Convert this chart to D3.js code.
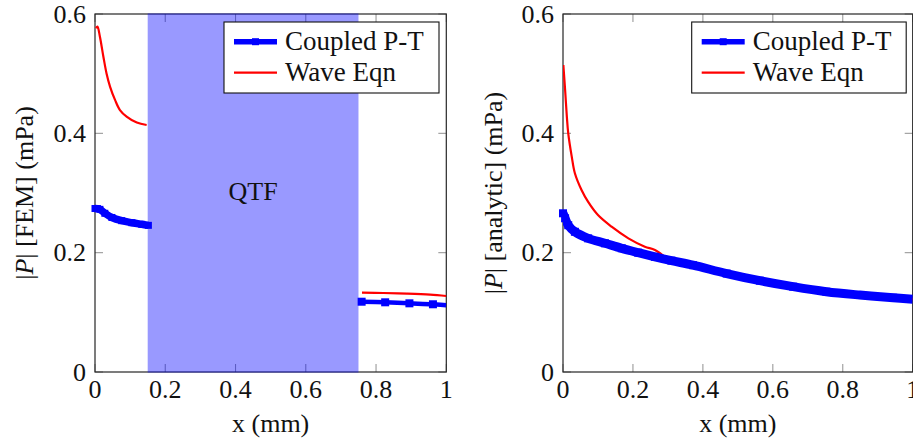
<!DOCTYPE html>
<html>
<head>
<meta charset="utf-8">
<script src="https://cdn.jsdelivr.net/npm/d3@7"></script>
<style>
  html, body { margin: 0; padding: 0; background: #fff; }
</style>
</head>
<body>
<svg id="chart" width="913" height="442" font-family="'Liberation Serif', 'Times New Roman', serif"></svg>
<script>
// ---------- data ----------
const xTicks = [0, 0.2, 0.4, 0.6, 0.8, 1];
const yTicks = [0, 0.2, 0.4, 0.6];
const xTickLabels = ["0", "0.2", "0.4", "0.6", "0.8", "1"];
const yTickLabels = ["0", "0.2", "0.4", "0.6"];
const seriesNames = ["Coupled P-T", "Wave Eqn"];
const qtfBand = [0.15, 0.75];
const qtfLabel = "QTF";

// Left panel (FEM)
const femCoupledA_x = [0, 0.007, 0.014, 0.028, 0.048, 0.076, 0.105, 0.133, 0.152];
const femCoupledA_y = [0.274, 0.2738, 0.2726, 0.266, 0.259, 0.2536, 0.2502, 0.2475, 0.2458];
const femCoupledB_x = [0.759, 0.826, 0.895, 0.962, 1.0];
const femCoupledB_y = [0.1178, 0.1168, 0.1151, 0.1135, 0.1118];
const femWaveA_x = [0.003, 0.007, 0.014, 0.024, 0.033, 0.043, 0.057, 0.071, 0.09, 0.119, 0.147];
const femWaveA_y = [0.576, 0.579, 0.562, 0.528, 0.5, 0.478, 0.456, 0.439, 0.428, 0.418, 0.414];
const femWaveB_x = [0.76, 0.821, 0.888, 0.954, 1.0];
const femWaveB_y = [0.1329, 0.1324, 0.1313, 0.1296, 0.1274];

// Right panel (analytic)
const anaCoupled_x = [0, 0.006, 0.015, 0.034, 0.072, 0.12, 0.168, 0.215, 0.263, 0.31, 0.372, 0.468, 0.563, 0.658, 0.753, 0.849, 0.944, 1.0];
const anaCoupled_y = [0.266, 0.2576, 0.246, 0.235, 0.224, 0.2157, 0.2073, 0.2, 0.193, 0.1866, 0.179, 0.165, 0.153, 0.143, 0.1346, 0.129, 0.1245, 0.122];
const anaWave_x = [0.001, 0.006, 0.011, 0.015, 0.025, 0.034, 0.053, 0.072, 0.1, 0.139, 0.187, 0.234, 0.263, 0.31, 0.372, 0.468, 0.563, 0.658, 0.753, 0.849, 0.944, 1.0];
const anaWave_y = [0.5145, 0.473, 0.428, 0.4, 0.361, 0.333, 0.305, 0.285, 0.263, 0.2435, 0.224, 0.21, 0.2045, 0.1866, 0.179, 0.165, 0.153, 0.143, 0.1346, 0.129, 0.1245, 0.122];

const zip = (xs, ys) => xs.map((x, i) => ({x, y: ys[i]}));

// ---------- drawing ----------
const svg = d3.select("#chart");
const FONT = 26;
const TXT = "#111";
const BLUE = "#0000ff", RED = "#ff0000";

function panel(opts) {
  const {left, right, top, bottom, ylabelParts, ylabelX, band, coupled, wave, legend, clipId} = opts;
  const x = d3.scaleLinear().domain([0, 1]).range([left, right]);
  const y = d3.scaleLinear().domain([0, 0.6]).range([bottom, top]);
  const g = svg.append("g");

  g.append("clipPath").attr("id", clipId).append("rect")
    .attr("x", left).attr("y", top).attr("width", right - left).attr("height", bottom - top);

  // ticks (inward, mirrored)
  const tickLen = 8, tickCol = "#9a9a9a";
  const tk = g.append("g").attr("stroke", tickCol).attr("stroke-width", 1.1);
  xTicks.forEach(v => {
    tk.append("line").attr("x1", x(v)).attr("x2", x(v)).attr("y1", bottom).attr("y2", bottom - tickLen);
    tk.append("line").attr("x1", x(v)).attr("x2", x(v)).attr("y1", top).attr("y2", top + tickLen);
  });
  yTicks.forEach(v => {
    tk.append("line").attr("x1", left).attr("x2", left + tickLen).attr("y1", y(v)).attr("y2", y(v));
    tk.append("line").attr("x1", right).attr("x2", right - tickLen).attr("y1", y(v)).attr("y2", y(v));
  });

  // frame
  g.append("rect").attr("x", left).attr("y", top).attr("width", right - left).attr("height", bottom - top)
    .attr("fill", "none").attr("stroke", "#262626").attr("stroke-width", 1.2);

  // band
  if (band) {
    g.append("rect").attr("x", x(band[0])).attr("y", top - 0.6)
      .attr("width", x(band[1]) - x(band[0])).attr("height", bottom - top + 1.2)
      .attr("fill", BLUE).attr("fill-opacity", 0.4);
    g.append("text").attr("x", x((band[0] + band[1]) / 2)).attr("y", y(0.3) + 7)
      .attr("text-anchor", "middle").attr("font-size", FONT).attr("fill", TXT).text(qtfLabel);
  }

  // tick labels
  xTicks.forEach((v, i) => {
    g.append("text").attr("x", x(v)).attr("y", bottom + 26).attr("text-anchor", "middle")
      .attr("font-size", FONT).attr("fill", TXT).text(xTickLabels[i]);
  });
  yTicks.forEach((v, i) => {
    g.append("text").attr("x", left - 9).attr("y", y(v) + 8.5).attr("text-anchor", "end")
      .attr("font-size", FONT).attr("fill", TXT).text(yTickLabels[i]);
  });

  // axis labels
  g.append("text").attr("x", (left + right) / 2).attr("y", 432).attr("text-anchor", "middle")
    .attr("font-size", FONT).attr("fill", TXT).text("x (mm)");
  const yl = g.append("text").attr("transform", `translate(${ylabelX},${(top + bottom) / 2}) rotate(-90)`)
    .attr("text-anchor", "middle").attr("font-size", FONT).attr("fill", TXT);
  ylabelParts.forEach(p => {
    yl.append("tspan").attr("font-style", p.italic ? "italic" : "normal").text(p.t);
  });

  const line = d3.line().x(d => x(d.x)).y(d => y(d.y)).curve(d3.curveCatmullRom.alpha(0.5));
  const plot = g.append("g").attr("clip-path", `url(#${clipId})`);

  // wave eqn (red)
  wave.forEach(seg => {
    plot.append("path").datum(seg).attr("d", line).attr("fill", "none")
      .attr("stroke", RED).attr("stroke-width", 2.2).attr("stroke-linejoin", "round");
  });
  // coupled (blue)
  coupled.forEach(seg => {
    plot.append("path").datum(seg.data).attr("d", line).attr("fill", "none")
      .attr("stroke", BLUE).attr("stroke-width", seg.w).attr("stroke-linejoin", "round");
    const ms = seg.marker;
    g.append("g").selectAll("rect").data(seg.data.filter(d => d.x < 0.999)).join("rect")
      .attr("x", d => x(d.x) - ms / 2).attr("y", d => y(d.y) - ms / 2)
      .attr("width", ms).attr("height", ms).attr("fill", BLUE);
  });

  // legend
  const L = legend;
  g.append("rect").attr("x", L.x).attr("y", L.y).attr("width", L.w).attr("height", L.h)
    .attr("fill", "#fff").attr("stroke", "#111").attr("stroke-width", 1.1);
  const lx0 = L.x + 10, lx1 = L.x + 53;
  const r1 = L.y + 19.7, r2 = L.y + 50.7;
  g.append("line").attr("x1", lx0).attr("x2", lx1).attr("y1", r1).attr("y2", r1)
    .attr("stroke", BLUE).attr("stroke-width", 5.5);
  g.append("rect").attr("x", (lx0 + lx1) / 2 - 3.5).attr("y", r1 - 3.5).attr("width", 7).attr("height", 7).attr("fill", BLUE);
  g.append("line").attr("x1", lx0).attr("x2", lx1).attr("y1", r2).attr("y2", r2)
    .attr("stroke", RED).attr("stroke-width", 2.2);
  g.append("text").attr("x", L.x + 61).attr("y", r1 + 8.5).attr("font-size", 27).attr("fill", TXT).text(seriesNames[0]);
  g.append("text").attr("x", L.x + 61).attr("y", r2 + 8.5).attr("font-size", 27).attr("fill", TXT).text(seriesNames[1]);
}

panel({
  left: 95, right: 446.3, top: 14, bottom: 372, clipId: "clipL",
  ylabelX: 33, band: qtfBand,
  ylabelParts: [{t: "|"}, {t: "P", italic: true}, {t: "| [FEM] (mPa)"}],
  coupled: [
    {data: zip(femCoupledA_x, femCoupledA_y), w: 7.5, marker: 7},
    {data: zip(femCoupledB_x, femCoupledB_y), w: 4.5, marker: 8}
  ],
  wave: [zip(femWaveA_x, femWaveA_y), zip(femWaveB_x, femWaveB_y)],
  legend: {x: 224, y: 22, w: 215, h: 71}
});

panel({
  left: 563, right: 912.7, top: 14, bottom: 372, clipId: "clipR",
  ylabelX: 502, band: null,
  ylabelParts: [{t: "|"}, {t: "P", italic: true}, {t: "| [analytic] (mPa)"}],
  coupled: [
    {data: zip(anaCoupled_x, anaCoupled_y), w: 9, marker: 8}
  ],
  wave: [zip(anaWave_x, anaWave_y)],
  legend: {x: 691.7, y: 22, w: 214.5, h: 71}
});
</script>
</body>
</html>
